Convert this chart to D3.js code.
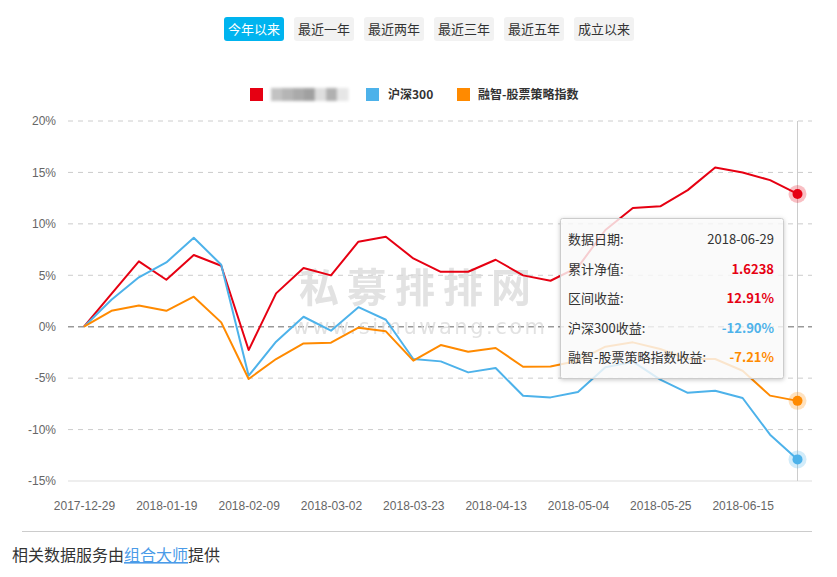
<!DOCTYPE html>
<html><head><meta charset="utf-8">
<script src="https://cdn.jsdelivr.net/npm/d3@7"></script>
<style>
html,body{margin:0;padding:0;background:#fff;}
svg{display:block;font-family:"Microsoft YaHei","Noto Sans CJK SC","Noto Sans",sans-serif;}
</style></head>
<body><svg id="c" width="837" height="577"></svg>
<script>
const dates = ["2017-12-29","2018-01-05","2018-01-12","2018-01-19","2018-01-26","2018-02-02","2018-02-09","2018-02-16","2018-02-23","2018-03-02","2018-03-09","2018-03-16","2018-03-23","2018-03-30","2018-04-06","2018-04-13","2018-04-20","2018-04-27","2018-05-04","2018-05-11","2018-05-18","2018-05-25","2018-06-01","2018-06-08","2018-06-15","2018-06-22","2018-06-29"];
const fundValues = [0,3.2,6.35,4.57,6.97,5.93,-2.27,3.24,5.7,4.99,8.27,8.75,6.64,5.34,5.34,6.51,4.99,4.47,5.8,9.4,11.55,11.7,13.28,15.48,15.0,14.25,12.91];
const hs300Values = [0,2.62,4.8,6.25,8.65,6.03,-4.76,-1.46,0.97,-0.39,1.9,0.68,-3.14,-3.37,-4.44,-4.02,-6.71,-6.87,-6.35,-3.95,-3.4,-5.15,-6.43,-6.22,-6.93,-10.5,-12.90];
const indexValues = [0,1.55,2.07,1.55,2.92,0.42,-5.08,-3.14,-1.62,-1.55,-0.1,-0.45,-3.3,-1.78,-2.43,-2.07,-3.89,-3.86,-3.3,-1.94,-1.52,-2.17,-3.14,-3.14,-4.28,-6.7,-7.21];
const yTicks = [-15,-10,-5,0,5,10,15,20];
const xTickIdx = [0,3,6,9,12,15,18,21,24];
const buttons = ["今年以来","最近一年","最近两年","最近三年","最近五年","成立以来"];
const seriesNames = ["","沪深300","融智-股票策略指数"];
const colors = ["#e60012","#4db2ea","#ff8a00"];
const tipRows = [["数据日期:","2018-06-29"],["累计净值:","1.6238"],["区间收益:","12.91%"],["沪深300收益:","-12.90%"],["融智-股票策略指数收益:","-7.21%"]];
const tipColors = ["#333","#e60012","#e60012","#4db2ea","#ff8a00"];

const svg = d3.select("#c");
const defs = svg.append("defs");
const blur = defs.append("filter").attr("id","blur").attr("x","-20%").attr("y","-50%").attr("width","140%").attr("height","200%");
blur.append("feGaussianBlur").attr("stdDeviation",1.6);
const sh = defs.append("filter").attr("id","sh").attr("x","-10%").attr("y","-10%").attr("width","120%").attr("height","130%");
sh.append("feDropShadow").attr("dx",0).attr("dy",1).attr("stdDeviation",2).attr("flood-color","#000").attr("flood-opacity",0.25);

// buttons
const bg = svg.append("g");
buttons.forEach((b,i)=>{
  const x0 = 224 + i*70;
  bg.append("rect").attr("x",x0).attr("y",17).attr("width",60).attr("height",24).attr("rx",3)
    .attr("fill", i===0 ? "#00b4ef" : "#f2f2f2");
  bg.append("text").attr("x",x0+30).attr("y",33.5).attr("text-anchor","middle")
    .attr("font-size",13).attr("fill", i===0 ? "#fff" : "#333").text(b);
});

// legend
const lg = svg.append("g");
lg.append("rect").attr("x",250).attr("y",88).attr("width",13).attr("height",13).attr("fill",colors[0]);
const blurCols = ["#c2c2c2","#b5b5b5","#aaaaaa","#a0a0a0","#dedede","#b0b0b0","#e6e6e6"];
const bgrp = lg.append("g").attr("filter","url(#blur)");
blurCols.forEach((c,i)=>{ bgrp.append("rect").attr("x",271+i*11).attr("y",88).attr("width",11.5).attr("height",13).attr("fill",c); });
lg.append("rect").attr("x",366).attr("y",88).attr("width",13).attr("height",13).attr("fill",colors[1]);
lg.append("text").attr("x",388).attr("y",99).attr("font-size",12).attr("font-weight","bold").attr("fill","#333").text(seriesNames[1]);
lg.append("rect").attr("x",457).attr("y",88).attr("width",13).attr("height",13).attr("fill",colors[2]);
lg.append("text").attr("x",478).attr("y",99).attr("font-size",12).attr("font-weight","bold").attr("fill","#333").text(seriesNames[2]);

// scales
const x = d3.scaleLinear().domain([0,dates.length-1]).range([84,797.5]);
const y = d3.scaleLinear().domain([-15,20]).range([481,121]);

// grid
const grid = svg.append("g");
yTicks.forEach(t=>{
  const ln = grid.append("line").attr("x1",68).attr("x2",812).attr("y1",y(t)).attr("y2",y(t));
  if (t===-15) ln.attr("stroke","#ddd").attr("stroke-width",1);
  else if (t===0) ln.attr("stroke","#999").attr("stroke-width",1.5).attr("stroke-dasharray","6,4");
  else ln.attr("stroke","#ccc").attr("stroke-width",1).attr("stroke-dasharray","5,5");
});
const ya = svg.append("g").attr("transform","translate(56,0)")
  .call(d3.axisLeft(y).tickValues(yTicks).tickFormat(d=>d+"%").tickSize(0).tickPadding(0));
ya.select(".domain").remove();
ya.selectAll("text").attr("font-size",12).attr("fill","#666").attr("font-family",null);

const xa = svg.append("g").attr("transform","translate(0,501)")
  .call(d3.axisBottom(x).tickValues(xTickIdx).tickFormat(i=>dates[i]).tickSize(0).tickPadding(0));
xa.select(".domain").remove();
xa.selectAll("text").attr("font-size",12).attr("fill","#666").attr("dy","0.71em").attr("font-family",null);

// watermark
const wm = svg.append("g").attr("fill","#d9d9d9").attr("opacity",0.75);
wm.append("text").attr("x",419).attr("y",302).attr("text-anchor","middle").attr("font-size",40).attr("font-weight","bold").attr("letter-spacing",8).text("私募排排网");
wm.append("text").attr("x",420).attr("y",334).attr("text-anchor","middle").attr("font-size",21).attr("font-family","Verdana, DejaVu Sans, sans-serif").attr("letter-spacing",2.5).text("www.simuwang.com");

// crosshair
svg.append("line").attr("x1",x(26)).attr("x2",x(26)).attr("y1",121).attr("y2",481).attr("stroke","#ccc").attr("stroke-width",1);

// lines
const line = d3.line().x((d,i)=>x(i)).y(d=>y(d));
[fundValues,hs300Values,indexValues].forEach((vals,k)=>{
  svg.append("path").datum(vals).attr("d",line).attr("fill","none").attr("stroke",colors[k]).attr("stroke-width",2).attr("stroke-linejoin","round");
});
[fundValues,hs300Values,indexValues].forEach((vals,k)=>{
  const last = vals.length-1;
  svg.append("circle").attr("cx",x(last)).attr("cy",y(vals[last])).attr("r",9).attr("fill",colors[k]).attr("opacity",0.25);
  svg.append("circle").attr("cx",x(last)).attr("cy",y(vals[last])).attr("r",5).attr("fill",colors[k]);
});

// tooltip
const tg = svg.append("g");
tg.append("rect").attr("x",560.5).attr("y",218.5).attr("width",223).attr("height",160).attr("rx",2)
  .attr("fill","rgba(255,255,255,0.78)").attr("stroke","#ccc").attr("filter","url(#sh)");
tipRows.forEach((r,i)=>{
  const yy = 244 + i*29.6;
  tg.append("text").attr("x",568).attr("y",yy).attr("font-size",13).attr("fill","#333").text(r[0]);
  tg.append("text").attr("x",774).attr("y",yy).attr("text-anchor","end").attr("font-size",13)
    .attr("font-weight", i===0 ? "normal":"bold").attr("fill",tipColors[i]).text(r[1]);
});

// footer
svg.append("line").attr("x1",22).attr("x2",812).attr("y1",531.5).attr("y2",531.5).attr("stroke","#ccc");
const ft = svg.append("text").attr("x",12).attr("y",561).attr("font-size",16).attr("fill","#333");
ft.append("tspan").text("相关数据服务由");
ft.append("tspan").attr("fill","#4a9be8").attr("text-decoration","underline").text("组合大师");
ft.append("tspan").text("提供");
</script></body></html>
